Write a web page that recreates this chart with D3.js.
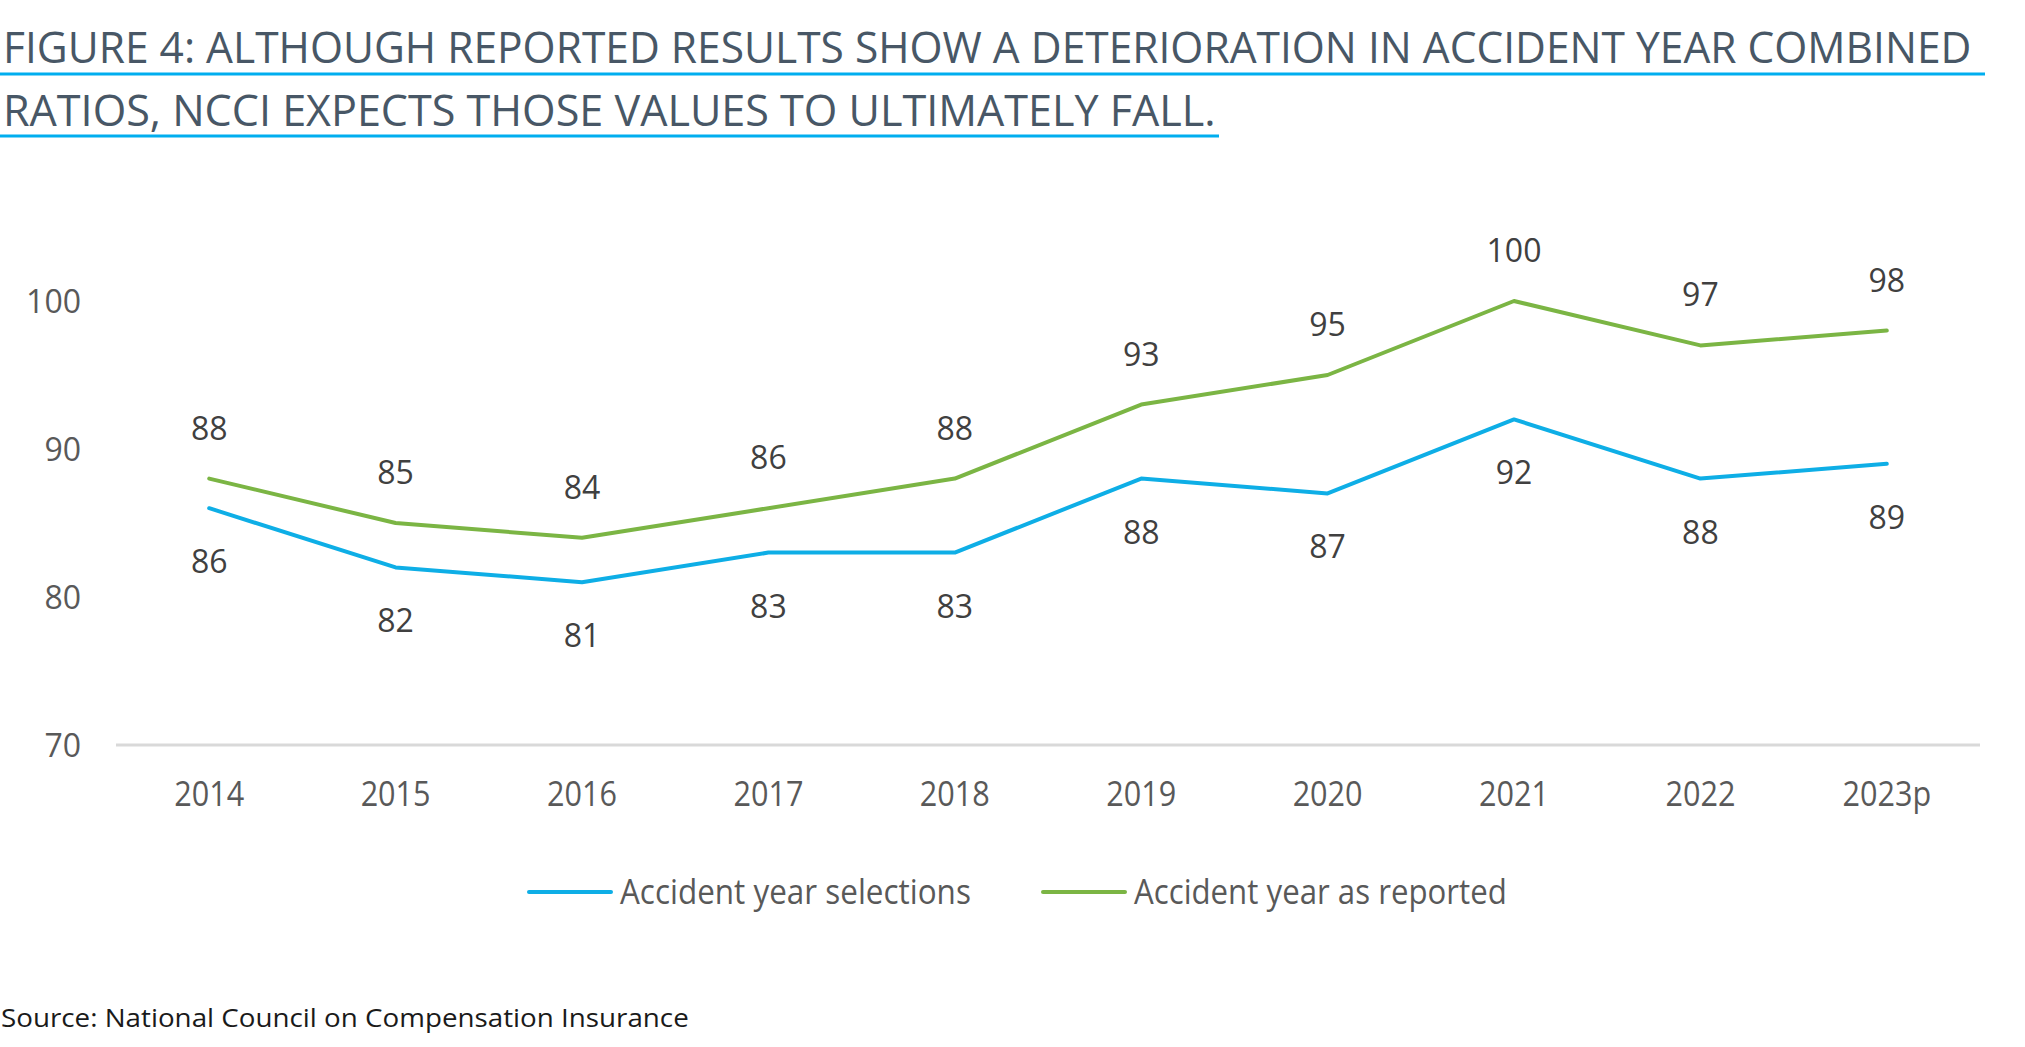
<!DOCTYPE html>
<html>
<head>
<meta charset="utf-8">
<script src="https://cdn.jsdelivr.net/npm/d3@7"></script>
<style>
  html, body { margin: 0; padding: 0; background: #fff; }
  svg { display: block; }
  text { font-family: "Open Sans", "Noto Sans", sans-serif; }
</style>
</head>
<body>
<svg id="chart" width="2025" height="1047"></svg>
<script>
const titleLines = [
  "FIGURE 4: ALTHOUGH REPORTED RESULTS SHOW A DETERIORATION IN ACCIDENT YEAR COMBINED",
  "RATIOS, NCCI EXPECTS THOSE VALUES TO ULTIMATELY FALL."
];
const categories = ["2014","2015","2016","2017","2018","2019","2020","2021","2022","2023p"];
const selections = [86, 82, 81, 83, 83, 88, 87, 92, 88, 89];
const reported   = [88, 85, 84, 86, 88, 93, 95, 100, 97, 98];
const yTicks = [70, 80, 90, 100];
const seriesNames = ["Accident year selections", "Accident year as reported"];
const sourceText = "Source: National Council on Compensation Insurance";

const BLUE = "#0eaee6", GREEN = "#7bb544";
const svg = d3.select("#chart");

// fit a text horizontally to a target width using a transform (keeps bbox honest)
function fitWidth(sel, x0, yb, target) {
  const node = sel.node();
  const w = node.getComputedTextLength();
  const sx = w > 0 ? target / w : 1;
  sel.attr("x", 0).attr("y", 0)
     .attr("transform", `translate(${x0},${yb}) scale(${sx},1)`);
}

// Title
const titleColor = "#485766";
const titleSpec = [
  {baseline: 63, len: 1969, ul: 74, ulEnd: 1985},
  {baseline: 126, len: 1213, ul: 136, ulEnd: 1219}
];
titleLines.forEach((t, i) => {
  const s = titleSpec[i];
  const tx = svg.append("text")
    .attr("font-size", 44).attr("fill", titleColor)
    .text(t);
  fitWidth(tx, 3, s.baseline, s.len);
  svg.append("line").attr("x1", 0).attr("x2", s.ulEnd)
    .attr("y1", s.ul).attr("y2", s.ul)
    .attr("stroke", "#00aeef").attr("stroke-width", 3);
});

// Scales
const x = d3.scaleBand().domain(categories).range([116, 1980]).paddingInner(0).paddingOuter(0);
const cx = d => x(d) + x.bandwidth() / 2;
const y = d3.scaleLinear().domain([70, 100]).range([745, 301]);

// Y axis
const yAxis = svg.append("g").attr("transform", "translate(81,0)")
  .call(d3.axisLeft(y).tickValues(yTicks).tickSize(0).tickPadding(0).tickFormat(d3.format("d")));
yAxis.select(".domain").remove();
yAxis.selectAll("text").attr("font-size", 32).attr("fill", "#595959")
  .attr("font-family", "'Open Sans', sans-serif").attr("dy", "0.35em");

// X axis baseline
svg.append("line").attr("x1", 116).attr("x2", 1980).attr("y1", y(70)).attr("y2", y(70))
  .attr("stroke", "#d9d9d9").attr("stroke-width", 3);

const xAxis = svg.append("g").attr("transform", `translate(0,${y(70)})`)
  .call(d3.axisBottom(x).tickSize(0).tickPadding(0));
xAxis.select(".domain").remove();
xAxis.selectAll("text").attr("font-size", 34).attr("fill", "#595959")
  .attr("font-family", "'Open Sans', sans-serif")
  .attr("y", 61).attr("dy", 0)
  .attr("transform", "scale(0.9,1)");

// Lines
const line = d3.line().x((d, i) => cx(categories[i])).y(d => y(d));
svg.append("path").datum(selections).attr("d", line)
  .attr("fill", "none").attr("stroke", BLUE).attr("stroke-width", 4)
  .attr("stroke-linejoin", "round").attr("stroke-linecap", "round");
svg.append("path").datum(reported).attr("d", line)
  .attr("fill", "none").attr("stroke", GREEN).attr("stroke-width", 4)
  .attr("stroke-linejoin", "round").attr("stroke-linecap", "round");

// Data labels
svg.append("g").selectAll("text").data(reported).join("text")
  .attr("x", (d, i) => cx(categories[i])).attr("y", d => y(d) - 39)
  .attr("text-anchor", "middle").attr("font-size", 32).attr("fill", "#404040")
  .text(d => d);
svg.append("g").selectAll("text").data(selections).join("text")
  .attr("x", (d, i) => cx(categories[i])).attr("y", d => y(d) + 65)
  .attr("text-anchor", "middle").attr("font-size", 32).attr("fill", "#404040")
  .text(d => d);

// Legend
const legendItems = [
  {name: seriesNames[0], color: BLUE, x0: 529, len: 351},
  {name: seriesNames[1], color: GREEN, x0: 1043, len: 373}
];
const lg = svg.append("g");
legendItems.forEach(it => {
  lg.append("line").attr("x1", it.x0).attr("x2", it.x0 + 82).attr("y1", 892).attr("y2", 892)
    .attr("stroke", it.color).attr("stroke-width", 4).attr("stroke-linecap", "round");
  const t = lg.append("text").attr("font-size", 34).attr("fill", "#595959").text(it.name);
  fitWidth(t, it.x0 + 91, 904, it.len);
});

// Source
const src = svg.append("text").attr("font-size", 26).attr("fill", "#1a1a1a").text(sourceText);
fitWidth(src, 1, 1027, 688);
</script>
</body>
</html>
